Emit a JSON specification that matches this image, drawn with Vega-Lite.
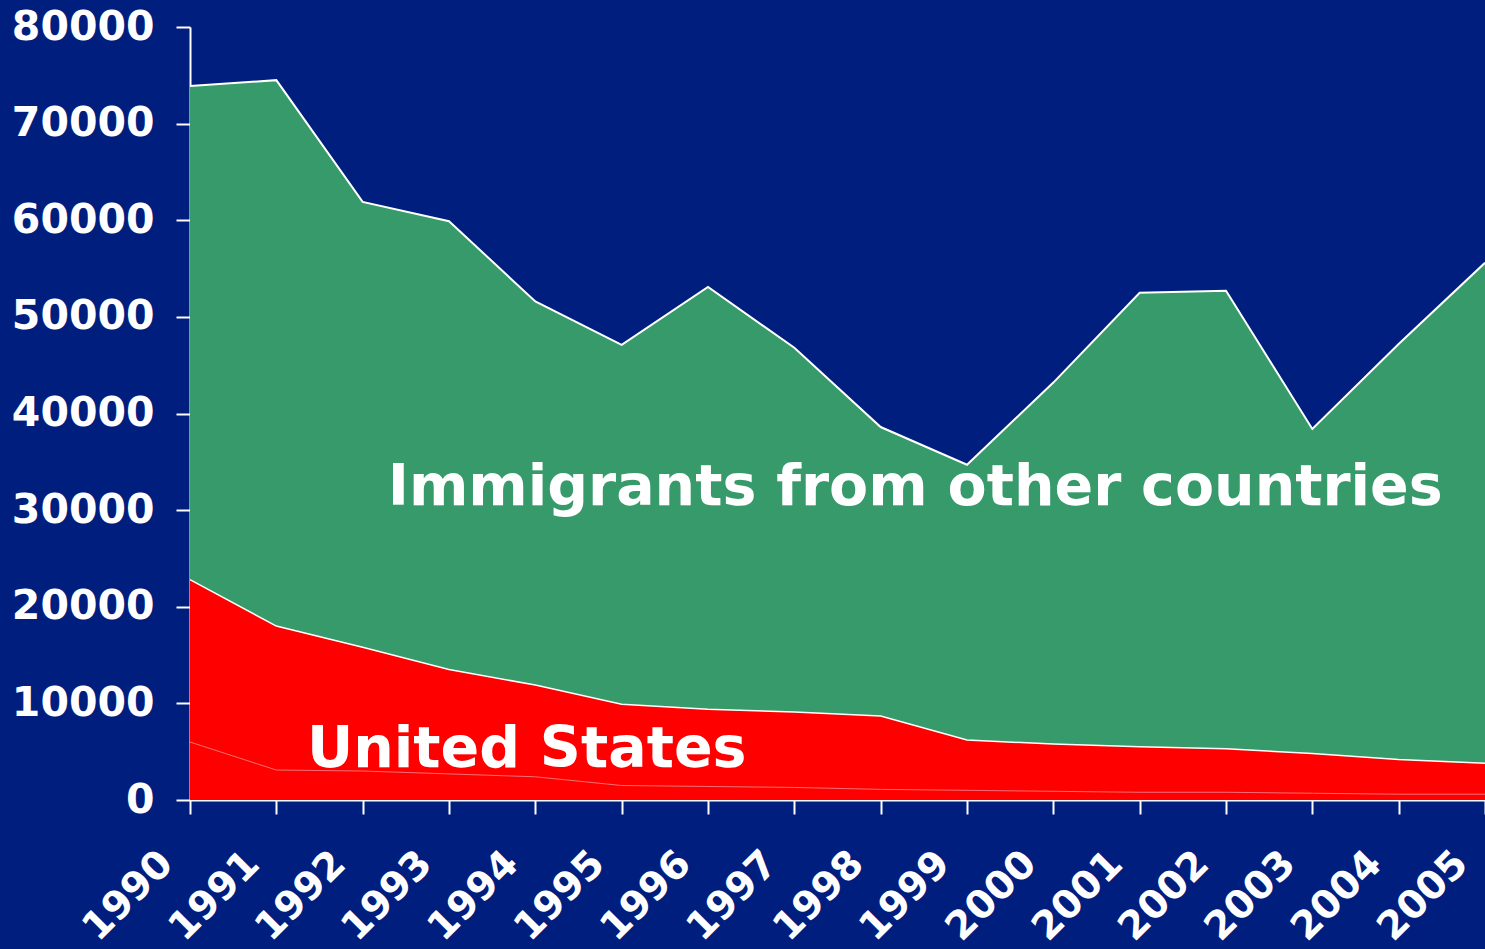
{
  "$schema": "https://vega.github.io/schema/vega-lite/v6.json",
  "autosize": "none",
  "width": 1295,
  "height": 773,
  "padding": {"left": 190, "top": 27, "right": 0, "bottom": 149},
  "background": "#001e7e",
  "config": {
    "view": {"stroke": null},
    "font": "DejaVu Sans",
    "axis": {
      "domainColor": "#ffffff",
      "domainWidth": 2,
      "tickColor": "#ffffff",
      "tickWidth": 2,
      "tickSize": 14,
      "labelColor": "#ffffff",
      "labelFont": "DejaVu Sans",
      "labelFontWeight": "bold",
      "labelFontSize": 41,
      "grid": false,
      "title": null
    }
  },
  "datasets": {
    "flows": [
      {"year": 1990, "series": "US-2", "value": 6000},
      {"year": 1990, "series": "US-1", "value": 16800},
      {"year": 1990, "series": "Other", "value": 51100},
      {"year": 1991, "series": "US-2", "value": 3100},
      {"year": 1991, "series": "US-1", "value": 14900},
      {"year": 1991, "series": "Other", "value": 56500},
      {"year": 1992, "series": "US-2", "value": 3000},
      {"year": 1992, "series": "US-1", "value": 12800},
      {"year": 1992, "series": "Other", "value": 46100},
      {"year": 1993, "series": "US-2", "value": 2700},
      {"year": 1993, "series": "US-1", "value": 10800},
      {"year": 1993, "series": "Other", "value": 46400},
      {"year": 1994, "series": "US-2", "value": 2400},
      {"year": 1994, "series": "US-1", "value": 9500},
      {"year": 1994, "series": "Other", "value": 39700},
      {"year": 1995, "series": "US-2", "value": 1500},
      {"year": 1995, "series": "US-1", "value": 8400},
      {"year": 1995, "series": "Other", "value": 37200},
      {"year": 1996, "series": "US-2", "value": 1400},
      {"year": 1996, "series": "US-1", "value": 8000},
      {"year": 1996, "series": "Other", "value": 43700},
      {"year": 1997, "series": "US-2", "value": 1300},
      {"year": 1997, "series": "US-1", "value": 7800},
      {"year": 1997, "series": "Other", "value": 37700},
      {"year": 1998, "series": "US-2", "value": 1100},
      {"year": 1998, "series": "US-1", "value": 7600},
      {"year": 1998, "series": "Other", "value": 29900},
      {"year": 1999, "series": "US-2", "value": 1000},
      {"year": 1999, "series": "US-1", "value": 5200},
      {"year": 1999, "series": "Other", "value": 28500},
      {"year": 2000, "series": "US-2", "value": 900},
      {"year": 2000, "series": "US-1", "value": 4900},
      {"year": 2000, "series": "Other", "value": 37400},
      {"year": 2001, "series": "US-2", "value": 800},
      {"year": 2001, "series": "US-1", "value": 4700},
      {"year": 2001, "series": "Other", "value": 47000},
      {"year": 2002, "series": "US-2", "value": 800},
      {"year": 2002, "series": "US-1", "value": 4500},
      {"year": 2002, "series": "Other", "value": 47400},
      {"year": 2003, "series": "US-2", "value": 700},
      {"year": 2003, "series": "US-1", "value": 4100},
      {"year": 2003, "series": "Other", "value": 33600},
      {"year": 2004, "series": "US-2", "value": 600},
      {"year": 2004, "series": "US-1", "value": 3600},
      {"year": 2004, "series": "Other", "value": 43000},
      {"year": 2005, "series": "US-2", "value": 600},
      {"year": 2005, "series": "US-1", "value": 3200},
      {"year": 2005, "series": "Other", "value": 51800}
    ],
    "labels": [
      {"year": 1998.4, "value": 32300, "text": "Immigrants from other countries"},
      {"year": 1993.9, "value": 5200, "text": "United States"}
    ]
  },
  "layer": [
    {
      "data": {"name": "flows"},
      "mark": {"type": "area", "opacity": 1},
      "encoding": {
        "x": {
          "field": "year",
          "type": "quantitative",
          "scale": {"domain": [1990, 2005], "nice": false, "zero": false},
          "axis": {
            "values": [1990, 1991, 1992, 1993, 1994, 1995, 1996, 1997, 1998, 1999, 2000, 2001, 2002, 2003, 2004, 2005],
            "format": "d",
            "labelFontSize": 39,
            "labelAngle": -45,
            "labelAlign": "right",
            "labelBaseline": "middle",
            "labelPadding": 43,
            "labelOffset": -24,
            "labelOverlap": false,
            "labelBound": false,
            "labelFlush": false
          }
        },
        "y": {
          "field": "value",
          "type": "quantitative",
          "stack": "zero",
          "scale": {"domain": [0, 80000], "nice": false},
          "axis": {
            "values": [0, 10000, 20000, 30000, 40000, 50000, 60000, 70000, 80000],
            "format": "d",
            "labelPadding": 22
          }
        },
        "fill": {
          "field": "series",
          "type": "nominal",
          "scale": {"domain": ["US-2", "US-1", "Other"], "range": ["#ff0000", "#ff0000", "#379a6a"]},
          "legend": null
        },
        "order": {"field": "series", "sort": "descending"}
      }
    },
    {
      "data": {"name": "flows"},
      "mark": {"type": "line"},
      "encoding": {
        "x": {"field": "year", "type": "quantitative"},
        "y": {"field": "value", "type": "quantitative", "stack": "zero"},
        "stroke": {
          "field": "series",
          "type": "nominal",
          "scale": {"domain": ["US-2", "US-1", "Other"], "range": ["#ff6e6e", "#ffffff", "#ffffff"]},
          "legend": null
        },
        "strokeWidth": {
          "field": "series",
          "type": "nominal",
          "scale": {"domain": ["US-2", "US-1", "Other"], "range": [1, 2, 2]},
          "legend": null
        },
        "order": {"field": "series", "sort": "descending"}
      }
    },
    {
      "data": {"name": "labels"},
      "mark": {"type": "text", "font": "DejaVu Sans", "fontWeight": "bold", "fontSize": 57, "color": "#ffffff", "align": "center", "baseline": "middle"},
      "encoding": {
        "x": {"field": "year", "type": "quantitative"},
        "y": {"field": "value", "type": "quantitative"},
        "text": {"field": "text"}
      }
    }
  ]
}
